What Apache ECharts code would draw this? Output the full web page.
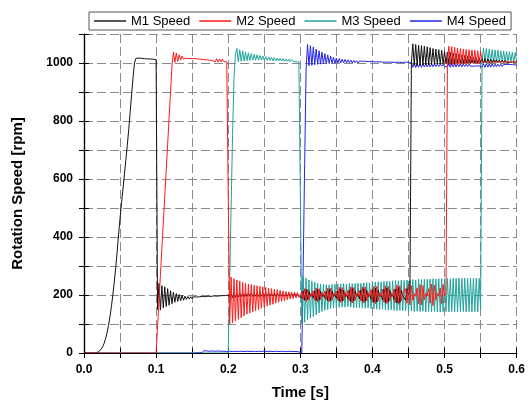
<!DOCTYPE html>
<html><head><meta charset="utf-8">
<script src="https://cdn.jsdelivr.net/npm/echarts@6/dist/echarts.min.js"></script>
<style>html,body{margin:0;padding:0;background:#fff}#c{width:528px;height:405px}</style>
</head><body><div id="c"></div>
<script>
// sample times in milliseconds
const timeMs = [
0,2,4,6,8,10,12,14,16,18,
20,22,24,26,28,30,32,34,36,38,
40,42,44,46,48,50,52,54,56,58,
60,62,64,66,68,70,72,74,76,78,
80,82,84,86,88,90,92,94,96,98,
100,102,104,106,108,110,112,114,116,118,
120,122,124,126,128,130,132,134,136,138,
140,142,144,146,148,150,152,154,156,158,
160,162,164,166,168,170,172,174,176,178,
180,182,184,186,188,190,192,194,196,198,
200,202,204,206,208,210,212,214,216,218,
220,222,224,226,228,230,232,234,236,238,
240,242,244,246,248,250,252,254,256,258,
260,262,264,266,268,270,272,274,276,278,
280,282,284,286,288,290,292,294,296,298,
300,302,304,306,308,310,312,314,316,318,
320,322,324,326,328,330,332,334,336,338,
340,342,344,346,348,350,352,354,356,358,
360,362,364,366,368,370,372,374,376,378,
380,382,384,386,388,390,392,394,396,398,
400,402,404,406,408,410,412,414,416,418,
420,422,424,426,428,430,432,434,436,438,
440,442,444,446,448,450,452,454,456,458,
460,462,464,466,468,470,472,474,476,478,
480,482,484,486,488,490,492,494,496,498,
500,502,504,506,508,510,512,514,516,518,
520,522,524,526,528,530,532,534,536,538,
540,542,544,546,548,550,552,554,556,558,
560,562,564,566,568,570,572,574,576,578,
580,582,584,586,588,590,592,594,596,598,
600];

const m1Speed = [
0,0,0,0,0,0,0,0,0,2,
4,8,14,22,34,50,70,95,125,160,
200,245,295,350,410,465,515,565,615,665,
715,770,830,890,950,1000,1016,1018,1017,1016,
1016,1015,1015,1015,1014,1014,1014,1013,1013,1013,
1012,150,240,148,232,155,228,160,222,165,
215,170,210,175,205,178,202,180,199,182,
196,185,195,186,194,187,194,188,193,189,
194,189,195,190,194,190,196,191,195,191,
197,192,196,192,197,193,198,193,198,194,
200,192,204,191,205,192,206,193,206,194,
205,194,206,195,205,196,206,195,205,196,
205,195,206,196,205,195,206,196,205,196,
205,196,206,195,205,196,206,196,205,196,
205,196,206,196,205,196,206,195,205,196,
200,190,213,182,218,184,213,195,203,189,
214,181,219,182,213,194,203,190,213,181,
219,181,214,195,202,189,214,179,221,179,
216,194,203,187,216,178,222,179,214,195,
202,187,216,178,222,178,216,194,203,186,
218,176,224,176,216,195,203,184,219,174,
224,176,216,195,203,184,221,173,226,174,
216,197,202,182,222,200,210,1000,1066,992,
1064,990,1062,992,1060,993,1058,994,1056,994,
1053,995,1050,995,1048,996,1046,996,1044,997,
1040,997,1038,998,1036,998,1034,998,1032,999,
1030,999,1028,999,1026,1000,1024,1000,1022,1000,
1020,1000,1018,1000,1017,1001,1016,1001,1015,1001,
1014,1001,1013,1001,1012,1002,1011,1002,1010,1002,
1010,1002,1009,1002,1008,1002,1008,1003,1007,1003,
1006];

const m2Speed = [
0,0,0,0,0,0,0,0,0,0,
0,0,0,0,0,0,0,0,0,0,
0,0,0,0,0,0,0,0,0,0,
0,0,0,0,0,0,0,0,0,0,
0,0,0,0,0,0,0,0,0,0,
0,90,180,270,360,450,540,630,720,810,
900,990,1038,1002,1034,1006,1028,1010,1024,1014,
1020,1016,1019,1016,1018,1015,1017,1015,1016,1014,
1015,1013,1014,1012,1013,1011,1012,1010,1013,1008,
1014,1004,1015,1003,1014,1004,1013,1005,1010,1004,
1005,100,262,104,256,110,252,116,248,122,
244,128,240,134,238,138,236,142,234,146,
232,150,230,154,228,158,226,162,224,165,
222,168,220,172,218,175,216,178,214,180,
212,183,211,186,210,188,209,190,208,192,
200,212,184,222,178,220,184,206,196,214,
182,224,176,222,184,208,196,212,184,224,
176,224,182,206,198,214,182,226,174,226,
180,208,196,216,180,228,172,226,182,206,
198,216,180,228,172,228,180,208,196,218,
178,230,170,230,180,206,196,220,176,232,
170,230,180,206,196,220,174,234,168,232,
180,204,198,222,172,236,166,232,182,204,
196,224,170,236,166,232,184,206,196,222,
172,238,164,234,182,206,196,224,170,236,
198,206,1000,1058,994,1056,995,1054,995,1052,
996,1050,996,1048,997,1047,997,1046,997,1045,
998,1044,998,1042,998,1040,1004,1008,1003,1007,
1004,1007,1003,1006,1004,1006,1003,1006,1004,1005,
1004,1005,1003,1005,1004,1005,1003,1004,1004,1004,
1004];

const m3Speed = [
0,0,0,0,0,0,0,0,0,0,
0,0,0,0,0,0,0,0,0,0,
0,0,0,0,0,0,0,0,0,0,
0,0,0,0,0,0,0,0,0,0,
0,0,0,0,0,0,0,0,0,0,
0,0,0,0,0,0,0,0,0,0,
0,0,0,0,0,0,0,0,0,0,
0,0,0,0,0,0,0,0,0,0,
0,0,0,0,0,0,0,0,0,0,
0,0,0,0,0,0,0,0,0,0,
0,250,500,750,950,1030,1050,1004,1046,1006,
1042,1007,1038,1008,1035,1009,1032,1010,1030,1010,
1028,1010,1026,1010,1024,1010,1022,1009,1021,1009,
1020,1008,1018,1008,1017,1007,1016,1007,1015,1006,
1014,1006,1013,1005,1012,1005,1011,1004,1010,1004,
1008,100,265,106,258,114,252,120,248,126,
244,132,240,138,238,143,236,147,235,150,
235,153,236,155,237,156,238,157,238,158,
239,158,238,160,240,158,239,157,240,156,
241,156,240,155,242,154,243,155,242,153,
244,152,245,151,246,150,245,151,247,149,
248,148,247,149,249,147,250,146,249,147,
251,146,250,145,252,144,251,145,253,143,
252,144,254,143,253,144,255,142,254,143,
255,142,256,143,255,142,256,141,257,142,
256,143,257,142,256,143,258,141,257,142,
258,142,257,143,258,142,257,143,258,142,
257,143,258,142,257,150,1000,1052,1000,1050,
1001,1048,1001,1046,1002,1045,1002,1044,1002,1042,
1003,1041,1003,1040,1003,1039,1004,1038,1004,1036,
1004];

const m4Speed = [
0,0,0,0,0,0,0,0,0,0,
0,0,0,0,0,0,0,0,0,0,
0,0,0,0,0,0,0,0,0,0,
0,0,0,0,0,0,0,0,0,0,
0,0,0,0,0,0,0,0,0,0,
0,0,0,0,0,0,0,0,0,0,
0,0,0,0,0,0,0,0,0,0,
0,0,0,0,0,3,0,4,1,6,
2,7,1,8,2,7,1,6,2,7,
1,6,2,7,1,6,2,6,1,5,
2,6,1,5,2,6,1,5,2,6,
1,5,2,6,1,5,2,6,1,5,
2,6,1,5,2,7,1,5,2,6,
1,5,2,6,1,5,2,6,1,5,
1,5,2,6,1,5,2,5,1,4,
3,0,300,650,980,1064,990,1060,992,1055,
994,1048,995,1042,996,1037,997,1032,998,1028,
998,1024,999,1020,999,1017,1000,1015,1000,1013,
1001,1012,1000,1011,1001,1010,1000,1009,1001,1008,
1000,1007,1001,1006,1000,1006,1001,1005,1000,1005,
1001,1004,1000,1004,1001,1004,1000,1003,1001,1003,
1000,1003,1001,1003,1000,1002,1001,1003,1000,1002,
1001,1002,1000,1003,1001,1002,1000,1000,985,1000,
984,999,985,998,985,998,986,998,986,997,
987,997,987,997,988,996,988,996,989,996,
989,995,986,998,985,998,986,997,986,997,
987,997,987,996,988,996,988,996,989,995,
989,995,990,995,990,994,986,998,985,998,
986,997,986,997,987,996,987,996,988,996,
988,995,989,995,989,995,990,994,990,994,
991];

const seriesNames = ['M1 Speed', 'M2 Speed', 'M3 Speed', 'M4 Speed'];
const seriesColors = ['#111111', '#ff1a1a', '#1fa39b', '#2323e6'];
const xTickValues = [0, 100, 200, 300, 400, 500, 600];
const xTickLabels = ['0.0', '0.1', '0.2', '0.3', '0.4', '0.5', '0.6'];
const yTickValues = [0, 200, 400, 600, 800, 1000];
const yTickLabels = ['0', '200', '400', '600', '800', '1000'];

const allValues = [m1Speed, m2Speed, m3Speed, m4Speed];
const FONT = 'Liberation Sans, Arial, sans-serif';

function mkSeries(k) {
  return {
    name: seriesNames[k], type: 'line', xAxisIndex: 0, yAxisIndex: 0,
    data: timeMs.map((t, i) => [t, allValues[k][i]]),
    symbol: 'none', showSymbol: false,
    lineStyle: { width: 1, color: seriesColors[k] },
    itemStyle: { color: seriesColors[k] },
    animation: false
  };
}

const chart = echarts.init(document.getElementById('c'), null, { renderer: 'canvas' });
const axisLineStyle = { color: '#000', width: 1.2 };
chart.setOption({
  animation: false,
  backgroundColor: '#fff',
  grid: { left: 84, right: 10, top: 34, bottom: 52 },
  legend: {
    data: seriesNames,
    icon: 'rect',
    left: 89, top: 12,
    padding: [2, 5, 2, 5],
    itemWidth: 32, itemHeight: 1.4, itemGap: 9,
    borderColor: '#555', borderWidth: 1,
    textStyle: { fontFamily: FONT, fontSize: 13, color: '#000', lineHeight: 14 }
  },
  xAxis: [
    {
      type: 'value', min: 0, max: 600, interval: 100, position: 'bottom', z: 10,
      axisLine: { show: true, lineStyle: axisLineStyle },
      axisTick: { show: true, inside: false, length: 4, lineStyle: { color: '#000' }, customValues: xTickValues },
      axisLabel: {
        customValues: xTickValues,
        formatter: v => xTickLabels[xTickValues.indexOf(Math.round(v))],
        color: '#000', fontWeight: 'bold', fontSize: 12, fontFamily: FONT, margin: 11
      },
      splitLine: { show: false },
      name: 'Time [s]', nameLocation: 'middle', nameGap: 32,
      nameTextStyle: { fontFamily: FONT, fontWeight: 'bold', fontSize: 15, color: '#000' }
    },
    {
      type: 'value', min: 0, max: 600, interval: 50, position: 'bottom',
      axisLine: { show: false },
      axisTick: { show: true, inside: true, length: 5, lineStyle: { color: '#000' } },
      axisLabel: { show: false },
      splitLine: { show: true, lineStyle: { color: '#8a8a8a', width: 1, type: [9, 4] } }
    },
    {
      type: 'value', min: 0, max: 600, interval: 50, position: 'top', z: 10,
      axisLine: { show: true, lineStyle: axisLineStyle },
      axisTick: { show: true, inside: true, length: 5, lineStyle: { color: '#000' } },
      axisLabel: { show: false },
      splitLine: { show: false }
    }
  ],
  yAxis: [
    {
      type: 'value', min: 0, max: 1100, interval: 200, position: 'left', z: 10,
      axisLine: { show: true, lineStyle: axisLineStyle },
      axisTick: { show: true, inside: false, length: 5, lineStyle: { color: '#000' }, customValues: yTickValues },
      axisLabel: {
        customValues: yTickValues,
        formatter: v => yTickLabels[yTickValues.indexOf(Math.round(v))],
        color: '#000', fontWeight: 'bold', fontSize: 12, fontFamily: FONT, margin: 11
      },
      splitLine: { show: false },
      name: 'Rotation Speed [rpm]', nameLocation: 'middle', nameGap: 59,
      nameTextStyle: { fontFamily: FONT, fontWeight: 'bold', fontSize: 15, color: '#000' }
    },
    {
      type: 'value', min: 0, max: 1100, interval: 100, position: 'left',
      axisLine: { show: false },
      axisTick: { show: true, inside: true, length: 5, lineStyle: { color: '#000' } },
      axisLabel: { show: false },
      splitLine: { show: true, lineStyle: { color: '#8a8a8a', width: 1, type: [9, 4] } }
    },
    {
      type: 'value', min: 0, max: 1100, interval: 100, position: 'right', z: 10,
      axisLine: { show: true, lineStyle: axisLineStyle },
      axisTick: { show: true, inside: true, length: 5, lineStyle: { color: '#000' } },
      axisLabel: { show: false },
      splitLine: { show: false }
    }
  ],
  // drawing order (bottom to top): M4, M3, M1, M2
  series: [mkSeries(3), mkSeries(2), mkSeries(0), mkSeries(1)]
});
</script>
</body></html>
